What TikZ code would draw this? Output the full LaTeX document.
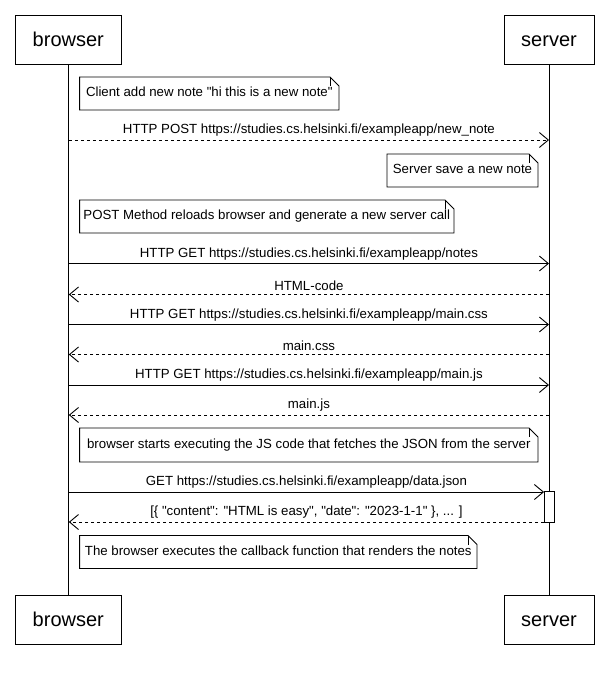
\documentclass[tikz,border=0pt]{standalone}
\usepackage{fontspec}
\setmainfont{Liberation Sans}[Ligatures=TeXOff]
\usetikzlibrary{arrows.meta}
\begin{document}
\begin{tikzpicture}[x=1pt,y=-1pt,line width=0.9pt,
  actorbase/.style={draw,minimum height=49pt,inner sep=0pt,text height=14.5pt,text depth=2pt,font=\fontsize{20}{24}\selectfont},
  actor/.style={actorbase,minimum width=106pt},
  sactor/.style={actorbase,minimum width=90pt},
  lbl/.style={font=\fontsize{13.25}{15}\selectfont,inner sep=0pt,anchor=base},
  msg/.style={-{Straight Barb[length=9pt,width=15pt]}},
  ret/.style={msg,dash pattern=on 3pt off 3pt},
  notetext/.style={font=\fontsize{13.25}{15}\selectfont,inner sep=0pt,text height=9.6pt,text depth=2.8pt}]
\useasboundingbox (0,0) rectangle (606,679);
% actors
\node[actor] (bt) at (68.3,40) {browser};
\node[sactor] (st) at (549,40) {server};
\node[actor] (bb) at (68.3,620) {browser};
\node[sactor] (sb) at (549,620) {server};
\draw (bt) -- (bb);
\draw (st) -- (sb);
% note drawing
\newcommand{\mynote}[6]{% name, x1,y1,x2,y2,text
  \draw[fill=white] (#2,#3) -- (#4-9,#3) -- (#4,#3+9) -- (#4,#5) -- (#2,#5) -- cycle;
  \draw (#4-9,#3) -- (#4-9,#3+9);
  \node[notetext] (#1) at ({(#2+#4)/2},{(#3+#5)/2}) {#6};}
\mynote{n1}{79.6}{77}{339}{110}{Client add new note "hi this is a new note"}
% POST
\coordinate (b1) at (68.8,140);
\coordinate (s1) at (549,140);
\draw[ret] (b1) -- (s1) node[lbl,midway,above=3pt] {HTTP POST https://studies.cs.helsinki.fi/exampleapp/new\_note};
\mynote{n2}{387}{154}{538}{187}{Server save a new note}
\mynote{n3}{79.6}{200}{454}{233}{POST Method reloads browser and generate a new server call}
% GET notes
\coordinate (b2) at (68.8,263.5);
\coordinate (s2) at (549,263.5);
\draw[msg] (b2) -- (s2) node[lbl,midway,above=3pt] {HTTP GET https://studies.cs.helsinki.fi/exampleapp/notes};
\coordinate (b3) at (68.8,294.5);
\coordinate (s3) at (549,294.5);
\draw[ret] (s3) -- (b3) node[lbl,midway,above=3pt] {HTML-code};
\coordinate (b4) at (68.8,324.5);
\coordinate (s4) at (549,324.5);
\draw[msg] (b4) -- (s4) node[lbl,midway,above=3pt] {HTTP GET https://studies.cs.helsinki.fi/exampleapp/main.css};
\coordinate (b5) at (68.8,354.5);
\coordinate (s5) at (549,354.5);
\draw[ret] (s5) -- (b5) node[lbl,midway,above=3pt] {main.css};
\coordinate (b6) at (68.8,385);
\coordinate (s6) at (549,385);
\draw[msg] (b6) -- (s6) node[lbl,midway,above=3pt] {HTTP GET https://studies.cs.helsinki.fi/exampleapp/main.js};
\coordinate (b7) at (68.8,415);
\coordinate (s7) at (549,415);
\draw[ret] (s7) -- (b7) node[lbl,midway,above=3pt] {main.js};
\mynote{n4}{79.6}{428}{538}{462}{browser starts executing the JS code that fetches the JSON from the server}
% activation
\node[draw,fill=white,minimum width=10pt,minimum height=30.5pt,inner sep=0pt] (act) at (549.5,507) {};
\coordinate (b8) at (68.8,492);
\coordinate (s8) at (act.west |- b8);
\draw[msg] (b8) -- (s8) node[lbl,midway,above=3pt] {GET https://studies.cs.helsinki.fi/exampleapp/data.json};
\coordinate (b9) at (68.8,522);
\coordinate (s9) at (act.west |- b9);
\draw[ret] (s9) -- (b9) node[lbl,midway,above=3pt] {[\{ "content": "HTML is easy", "date": "2023-1-1" \}, ... ]};
\mynote{n5}{79.6}{535.5}{477}{568.5}{The browser executes the callback function that renders the notes}
\end{tikzpicture}
\end{document}
